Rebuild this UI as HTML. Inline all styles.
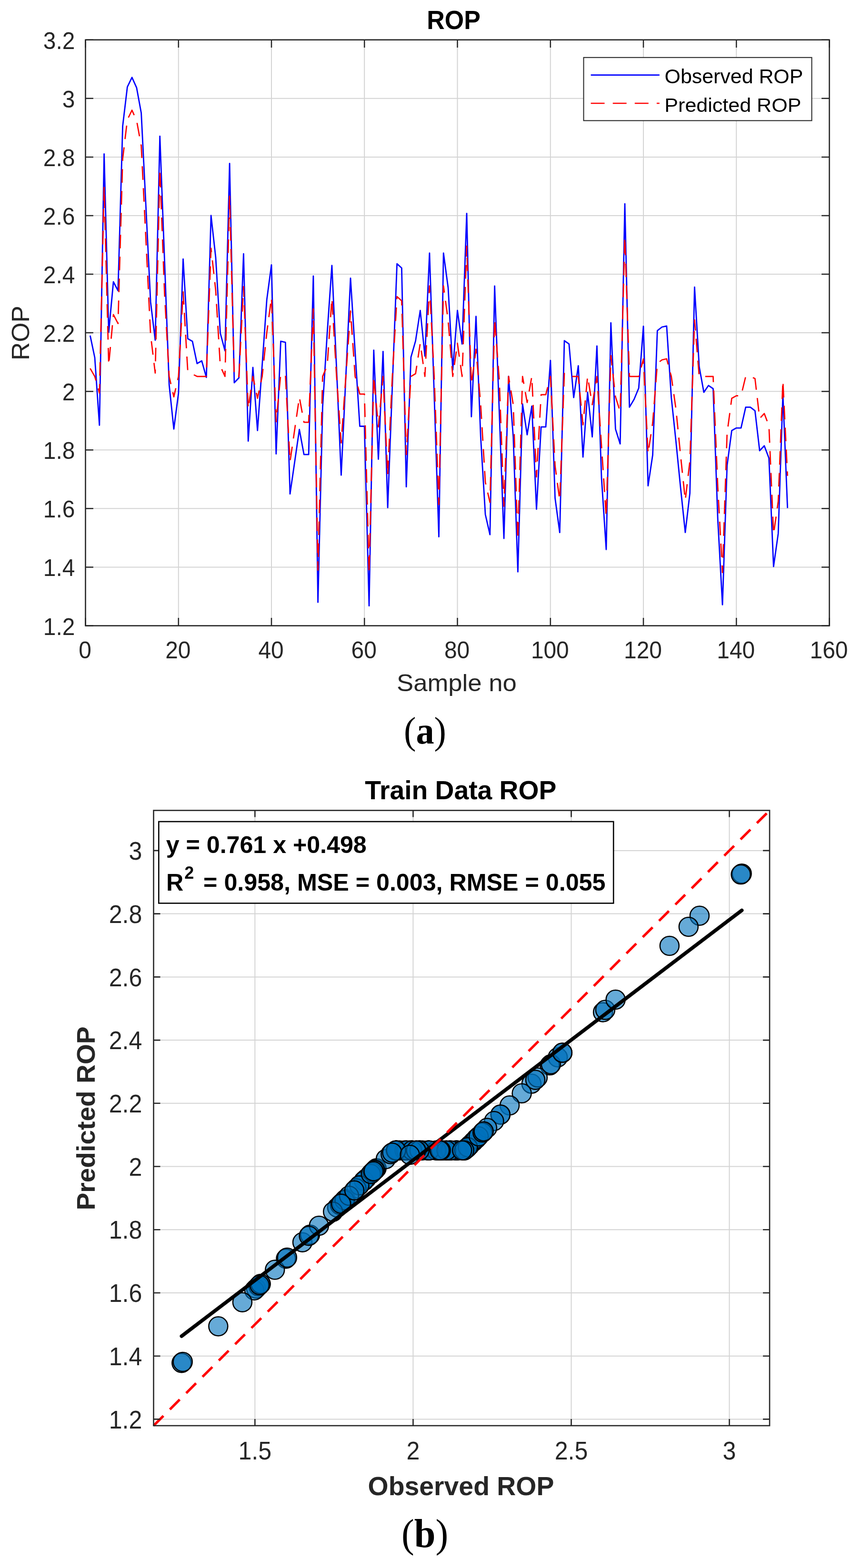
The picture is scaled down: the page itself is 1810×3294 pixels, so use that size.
<!DOCTYPE html><html><head><meta charset="utf-8"><title>ROP</title><style>
html,body{margin:0;padding:0;background:#fff;}
svg{display:block;}
.t{font-family:"Liberation Sans",Arial,sans-serif;}
.s{font-family:"Liberation Serif","Times New Roman",serif;font-weight:bold;}
</style></head><body>
<svg width="1810" height="3294" viewBox="0 0 1810 3294">
<rect x="0" y="0" width="1810" height="3294" fill="#fff"/>
<path d="M374.8 83.7V1314.5M570.0 83.7V1314.5M765.2 83.7V1314.5M960.5 83.7V1314.5M1155.8 83.7V1314.5M1351.0 83.7V1314.5M1546.2 83.7V1314.5M179.5 1191.4H1741.5M179.5 1068.3H1741.5M179.5 945.3H1741.5M179.5 822.2H1741.5M179.5 699.1H1741.5M179.5 576.0H1741.5M179.5 452.9H1741.5M179.5 329.9H1741.5M179.5 206.8H1741.5" stroke="#d4d4d4" stroke-width="2" fill="none"/>
<polyline points="189.3,704.9 199.0,751.3 208.8,893.3 218.6,323.3 228.3,698.2 238.1,592.0 247.8,610.7 257.6,264.8 267.4,182.7 277.1,162.6 286.9,184.4 296.6,237.6 306.4,433.9 316.2,634.4 325.9,714.7 335.7,286.2 345.5,547.3 355.2,808.5 365.0,901.3 374.8,825.9 384.5,544.2 394.3,711.6 404.0,716.9 413.8,763.8 423.6,758.0 433.3,792.8 443.1,452.7 452.9,540.6 462.6,700.0 472.4,737.0 482.1,343.3 491.9,804.0 501.7,793.7 511.4,533.1 521.2,926.7 531.0,771.8 540.7,904.4 550.5,766.9 560.2,629.9 570.0,556.3 579.8,953.5 589.5,716.9 599.3,719.2 609.0,1037.6 618.8,969.9 628.6,902.2 638.3,954.9 648.1,954.9 657.9,579.9 667.6,1265.3 677.4,855.4 687.1,699.1 696.9,557.6 706.7,774.8 716.4,998.2 726.2,791.4 736.0,584.4 745.7,739.7 755.5,895.5 765.2,895.5 775.0,1272.7 784.8,735.7 794.5,964.6 804.3,738.4 814.1,1066.4 823.8,810.5 833.6,554.1 843.4,563.0 853.1,1022.7 862.9,750.4 872.6,716.1 882.4,652.2 892.2,748.2 901.9,531.7 911.7,829.6 921.5,1127.6 931.2,531.7 941.0,604.5 950.7,777.2 960.5,652.2 970.3,722.7 980.0,448.3 989.8,875.4 999.5,664.7 1009.3,917.8 1019.1,1080.7 1028.8,1123.1 1038.6,600.9 1048.4,865.9 1058.1,1131.2 1067.9,790.6 1077.7,917.8 1087.4,1201.3 1097.2,848.6 1106.9,913.3 1116.7,853.1 1126.5,1069.6 1136.2,896.8 1146.0,896.8 1155.8,757.1 1165.5,1046.2 1175.3,1118.7 1185.0,715.6 1194.8,722.7 1204.6,835.2 1214.3,768.3 1224.1,960.2 1233.8,824.1 1243.6,917.8 1253.4,726.8 1263.1,1005.3 1272.9,1154.4 1282.7,678.1 1292.4,901.3 1302.2,932.5 1312.0,428.1 1321.7,855.4 1331.5,838.8 1341.2,815.2 1351.0,685.3 1360.8,1020.5 1370.5,955.7 1380.3,694.6 1390.0,687.0 1399.8,684.8 1409.6,835.2 1419.3,926.8 1429.1,1025.0 1438.9,1118.7 1448.6,1036.1 1458.4,603.1 1468.2,770.5 1477.9,824.1 1487.7,809.8 1497.4,816.5 1507.2,1091.1 1517.0,1270.4 1526.7,978.1 1536.5,904.4 1546.2,899.1 1556.0,899.1 1565.8,855.4 1575.5,855.4 1585.3,862.9 1595.1,946.8 1604.8,936.5 1614.6,962.4 1624.3,1190.1 1634.1,1120.9 1643.9,828.5 1653.6,1067.4" fill="none" stroke="#0000ff" stroke-width="2.8" stroke-linejoin="round"/>
<polyline points="189.3,773.8 199.0,790.8 208.8,825.6 218.6,392.2 228.3,767.1 238.1,660.9 247.8,679.7 257.6,333.7 267.4,251.6 277.1,231.5 286.9,253.4 296.6,306.5 306.4,502.8 316.2,703.3 325.9,783.7 335.7,355.2 345.5,616.3 355.2,790.8 365.0,833.6 374.8,790.8 384.5,613.1 394.3,780.5 404.0,785.9 413.8,790.8 423.6,790.8 433.3,790.8 443.1,521.6 452.9,609.6 462.6,768.9 472.4,790.8 482.1,412.3 491.9,790.8 501.7,790.8 511.4,602.0 521.2,859.0 531.0,790.8 540.7,836.7 550.5,790.8 560.2,698.9 570.0,625.2 579.8,885.8 589.5,785.9 599.3,788.1 609.0,969.9 618.8,902.2 628.6,834.5 638.3,887.2 648.1,887.2 657.9,648.8 667.6,1197.6 677.4,790.8 687.1,768.0 696.9,626.5 706.7,790.8 716.4,930.5 726.2,790.8 736.0,653.3 745.7,790.8 755.5,827.8 765.2,827.8 775.0,1205.0 784.8,790.8 794.5,897.0 804.3,790.8 814.1,998.7 823.8,790.8 833.6,623.0 843.4,631.9 853.1,955.0 862.9,790.8 872.6,785.0 882.4,721.1 892.2,790.8 901.9,600.6 911.7,790.8 921.5,1059.9 931.2,600.6 941.0,673.4 950.7,790.8 960.5,721.1 970.3,790.8 980.0,517.2 989.8,807.7 999.5,733.6 1009.3,850.1 1019.1,1013.0 1028.8,1055.4 1038.6,669.8 1048.4,798.2 1058.1,1063.5 1067.9,790.8 1077.7,850.1 1087.4,1133.6 1097.2,790.8 1106.9,845.6 1116.7,790.8 1126.5,1001.9 1136.2,829.1 1146.0,829.1 1155.8,790.8 1165.5,978.5 1175.3,1051.0 1185.0,784.5 1194.8,790.8 1204.6,790.8 1214.3,790.8 1224.1,892.5 1233.8,790.8 1243.6,850.1 1253.4,790.8 1263.1,937.6 1272.9,1086.7 1282.7,747.0 1292.4,833.6 1302.2,864.8 1312.0,497.1 1321.7,790.8 1331.5,790.8 1341.2,790.8 1351.0,754.2 1360.8,952.8 1370.5,888.0 1380.3,763.5 1390.0,756.0 1399.8,753.7 1409.6,790.8 1419.3,859.1 1429.1,957.3 1438.9,1051.0 1448.6,968.4 1458.4,672.0 1468.2,790.8 1477.9,790.8 1487.7,790.8 1497.4,790.8 1507.2,1023.4 1517.0,1202.7 1526.7,910.4 1536.5,836.7 1546.2,831.4 1556.0,831.4 1565.8,790.8 1575.5,790.8 1585.3,795.2 1595.1,879.1 1604.8,868.8 1614.6,894.7 1624.3,1122.4 1634.1,1053.2 1643.9,799.4 1653.6,999.7" fill="none" stroke="#ff0000" stroke-width="2.7" stroke-dasharray="28.6 17.4" stroke-linejoin="round"/>
<path d="M179.5 1314.5v-16.4M179.5 83.7v16.4M374.8 1314.5v-16.4M374.8 83.7v16.4M570.0 1314.5v-16.4M570.0 83.7v16.4M765.2 1314.5v-16.4M765.2 83.7v16.4M960.5 1314.5v-16.4M960.5 83.7v16.4M1155.8 1314.5v-16.4M1155.8 83.7v16.4M1351.0 1314.5v-16.4M1351.0 83.7v16.4M1546.2 1314.5v-16.4M1546.2 83.7v16.4M1741.5 1314.5v-16.4M1741.5 83.7v16.4M179.5 1314.5h16.4M1741.5 1314.5h-16.4M179.5 1191.4h16.4M1741.5 1191.4h-16.4M179.5 1068.3h16.4M1741.5 1068.3h-16.4M179.5 945.3h16.4M1741.5 945.3h-16.4M179.5 822.2h16.4M1741.5 822.2h-16.4M179.5 699.1h16.4M1741.5 699.1h-16.4M179.5 576.0h16.4M1741.5 576.0h-16.4M179.5 452.9h16.4M1741.5 452.9h-16.4M179.5 329.9h16.4M1741.5 329.9h-16.4M179.5 206.8h16.4M1741.5 206.8h-16.4M179.5 83.7h16.4M1741.5 83.7h-16.4" stroke="#262626" stroke-width="2.5" fill="none"/>
<rect x="179.5" y="83.7" width="1562.0" height="1230.8" fill="none" stroke="#262626" stroke-width="2.6"/>
<g font-family="Liberation Sans, Arial, sans-serif" fill="#262626" font-size="49.6">
<text transform="translate(178.5 1382.9) scale(0.965 1)" text-anchor="middle">0</text>
<text transform="translate(373.8 1382.9) scale(0.965 1)" text-anchor="middle">20</text>
<text transform="translate(569.0 1382.9) scale(0.965 1)" text-anchor="middle">40</text>
<text transform="translate(764.2 1382.9) scale(0.965 1)" text-anchor="middle">60</text>
<text transform="translate(959.5 1382.9) scale(0.965 1)" text-anchor="middle">80</text>
<text transform="translate(1154.8 1382.9) scale(0.965 1)" text-anchor="middle">100</text>
<text transform="translate(1350.0 1382.9) scale(0.965 1)" text-anchor="middle">120</text>
<text transform="translate(1545.2 1382.9) scale(0.965 1)" text-anchor="middle">140</text>
<text transform="translate(1740.5 1382.9) scale(0.965 1)" text-anchor="middle">160</text>
<text transform="translate(157.3 1333.5) scale(0.965 1)" text-anchor="end">1.2</text>
<text transform="translate(157.3 1210.4) scale(0.965 1)" text-anchor="end">1.4</text>
<text transform="translate(157.3 1087.3) scale(0.965 1)" text-anchor="end">1.6</text>
<text transform="translate(157.3 964.3) scale(0.965 1)" text-anchor="end">1.8</text>
<text transform="translate(157.3 841.2) scale(0.965 1)" text-anchor="end">2</text>
<text transform="translate(157.3 718.1) scale(0.965 1)" text-anchor="end">2.2</text>
<text transform="translate(157.3 595.0) scale(0.965 1)" text-anchor="end">2.4</text>
<text transform="translate(157.3 471.9) scale(0.965 1)" text-anchor="end">2.6</text>
<text transform="translate(157.3 348.9) scale(0.965 1)" text-anchor="end">2.8</text>
<text transform="translate(157.3 225.8) scale(0.965 1)" text-anchor="end">3</text>
<text transform="translate(157.3 102.7) scale(0.965 1)" text-anchor="end">3.2</text>
</g>
<text x="0" y="0" transform="matrix(0.52665 0 0 0.50532 833.07 1452.19)" font-family="Liberation Sans, Arial, sans-serif" font-size="100" fill="#262626">Sample no</text>
<text x="0" y="0" transform="matrix(0 -0.53005 0.52676 0 61.47 756.94)" font-family="Liberation Sans, Arial, sans-serif" font-size="100" fill="#262626">ROP</text>
<text x="0" y="0" transform="matrix(0.51942 0 0 0.54648 896.26 61.35)" font-family="Liberation Sans, Arial, sans-serif" font-weight="bold" font-size="100" fill="#000">ROP</text>
<rect x="1225.5" y="120.8" width="479" height="132.6" fill="#fff" stroke="#262626" stroke-width="2"/>
<path d="M1240.6 157.6H1384.8" stroke="#0000ff" stroke-width="2.8"/>
<path d="M1240.6 217H1384.8" stroke="#ff0000" stroke-width="2.7" stroke-dasharray="28.9 17.2"/>
<text x="0" y="0" transform="matrix(0.42889 0 0 0.42838 1395.56 175.07)" font-family="Liberation Sans, Arial, sans-serif" font-size="100" fill="#000">Observed ROP</text>
<text x="0" y="0" transform="matrix(0.43043 0 0 0.41216 1395.36 234.79)" font-family="Liberation Sans, Arial, sans-serif" font-size="100" fill="#000">Predicted ROP</text>
<text x="0" y="0" transform="matrix(0.76296 0 0 0.81333 848.05 1562.12)" font-family="Liberation Serif, Times New Roman, serif" font-size="100" fill="#000">(<tspan font-weight="bold">a</tspan>)</text>
<path d="M535.3 1702.5V2995.0M867.4 1702.5V2995.0M1199.5 1702.5V2995.0M1531.5 1702.5V2995.0M322.5 2981.4H1616.0M322.5 2848.7H1616.0M322.5 2716.0H1616.0M322.5 2583.2H1616.0M322.5 2450.5H1616.0M322.5 2317.8H1616.0M322.5 2185.1H1616.0M322.5 2052.4H1616.0M322.5 1919.6H1616.0M322.5 1786.9H1616.0" stroke="#d4d4d4" stroke-width="2" fill="none"/>
<g fill="#0072bd" fill-opacity="0.6" stroke="#000" stroke-width="2.5">
<circle cx="994.0" cy="2398.4" r="20"/>
<circle cx="943.8" cy="2416.7" r="20"/>
<circle cx="790.7" cy="2454.2" r="20"/>
<circle cx="1405.8" cy="1986.9" r="20"/>
<circle cx="1001.2" cy="2391.1" r="20"/>
<circle cx="1115.9" cy="2276.6" r="20"/>
<circle cx="1095.6" cy="2296.8" r="20"/>
<circle cx="1468.9" cy="1923.8" r="20"/>
<circle cx="1557.6" cy="1835.2" r="20"/>
<circle cx="1555.6" cy="1837.1" r="20"/>
<circle cx="1070.1" cy="2322.3" r="20"/>
<circle cx="983.4" cy="2409.0" r="20"/>
<circle cx="1445.8" cy="1946.9" r="20"/>
<circle cx="882.2" cy="2416.7" r="20"/>
<circle cx="782.0" cy="2462.9" r="20"/>
<circle cx="863.4" cy="2416.7" r="20"/>
<circle cx="986.7" cy="2405.6" r="20"/>
<circle cx="981.0" cy="2411.4" r="20"/>
<circle cx="930.4" cy="2416.7" r="20"/>
<circle cx="936.7" cy="2416.7" r="20"/>
<circle cx="899.1" cy="2416.7" r="20"/>
<circle cx="1266.1" cy="2126.4" r="20"/>
<circle cx="1171.2" cy="2221.2" r="20"/>
<circle cx="999.3" cy="2393.0" r="20"/>
<circle cx="959.3" cy="2416.7" r="20"/>
<circle cx="887.1" cy="2416.7" r="20"/>
<circle cx="898.2" cy="2416.7" r="20"/>
<circle cx="754.6" cy="2490.3" r="20"/>
<circle cx="921.7" cy="2416.7" r="20"/>
<circle cx="778.7" cy="2466.2" r="20"/>
<circle cx="927.0" cy="2416.7" r="20"/>
<circle cx="1154.4" cy="2238.1" r="20"/>
<circle cx="725.7" cy="2519.1" r="20"/>
<circle cx="981.0" cy="2411.4" r="20"/>
<circle cx="978.6" cy="2413.7" r="20"/>
<circle cx="635.0" cy="2609.8" r="20"/>
<circle cx="708.0" cy="2536.8" r="20"/>
<circle cx="781.1" cy="2463.8" r="20"/>
<circle cx="724.2" cy="2520.6" r="20"/>
<circle cx="724.2" cy="2520.6" r="20"/>
<circle cx="1128.9" cy="2263.6" r="20"/>
<circle cx="831.5" cy="2416.7" r="20"/>
<circle cx="1000.2" cy="2392.1" r="20"/>
<circle cx="918.5" cy="2416.7" r="20"/>
<circle cx="900.6" cy="2416.7" r="20"/>
<circle cx="1124.0" cy="2268.4" r="20"/>
<circle cx="956.4" cy="2416.7" r="20"/>
<circle cx="788.3" cy="2456.6" r="20"/>
<circle cx="788.3" cy="2456.6" r="20"/>
<circle cx="381.3" cy="2863.3" r="20"/>
<circle cx="960.7" cy="2416.7" r="20"/>
<circle cx="713.7" cy="2531.1" r="20"/>
<circle cx="957.9" cy="2416.7" r="20"/>
<circle cx="880.0" cy="2416.7" r="20"/>
<circle cx="1156.8" cy="2235.7" r="20"/>
<circle cx="651.0" cy="2593.7" r="20"/>
<circle cx="944.8" cy="2416.7" r="20"/>
<circle cx="981.9" cy="2410.4" r="20"/>
<circle cx="1050.8" cy="2341.5" r="20"/>
<circle cx="947.2" cy="2416.7" r="20"/>
<circle cx="1180.9" cy="2211.6" r="20"/>
<circle cx="859.4" cy="2416.7" r="20"/>
<circle cx="537.8" cy="2706.9" r="20"/>
<circle cx="1180.9" cy="2211.6" r="20"/>
<circle cx="916.0" cy="2416.7" r="20"/>
<circle cx="1050.8" cy="2341.5" r="20"/>
<circle cx="974.7" cy="2416.7" r="20"/>
<circle cx="1270.9" cy="2121.6" r="20"/>
<circle cx="810.0" cy="2434.9" r="20"/>
<circle cx="1037.4" cy="2355.0" r="20"/>
<circle cx="764.2" cy="2480.6" r="20"/>
<circle cx="542.7" cy="2702.0" r="20"/>
<circle cx="820.3" cy="2424.6" r="20"/>
<circle cx="534.0" cy="2710.7" r="20"/>
<circle cx="901.5" cy="2416.7" r="20"/>
<circle cx="764.2" cy="2480.6" r="20"/>
<circle cx="458.3" cy="2786.3" r="20"/>
<circle cx="838.9" cy="2416.7" r="20"/>
<circle cx="769.1" cy="2475.8" r="20"/>
<circle cx="834.1" cy="2416.7" r="20"/>
<circle cx="600.4" cy="2644.3" r="20"/>
<circle cx="786.9" cy="2458.0" r="20"/>
<circle cx="786.9" cy="2458.0" r="20"/>
<circle cx="937.6" cy="2416.7" r="20"/>
<circle cx="547.4" cy="2697.2" r="20"/>
<circle cx="982.4" cy="2409.9" r="20"/>
<circle cx="974.7" cy="2416.7" r="20"/>
<circle cx="853.3" cy="2416.7" r="20"/>
<circle cx="925.6" cy="2416.7" r="20"/>
<circle cx="718.4" cy="2526.4" r="20"/>
<circle cx="865.3" cy="2416.7" r="20"/>
<circle cx="764.2" cy="2480.6" r="20"/>
<circle cx="970.3" cy="2416.7" r="20"/>
<circle cx="669.8" cy="2574.9" r="20"/>
<circle cx="508.9" cy="2735.7" r="20"/>
<circle cx="1022.9" cy="2369.5" r="20"/>
<circle cx="782.0" cy="2462.9" r="20"/>
<circle cx="748.3" cy="2496.5" r="20"/>
<circle cx="1292.6" cy="2099.9" r="20"/>
<circle cx="831.6" cy="2416.7" r="20"/>
<circle cx="849.5" cy="2416.7" r="20"/>
<circle cx="875.0" cy="2416.7" r="20"/>
<circle cx="1015.2" cy="2377.2" r="20"/>
<circle cx="723.3" cy="2521.5" r="20"/>
<circle cx="1005.1" cy="2387.3" r="20"/>
<circle cx="1013.2" cy="2379.1" r="20"/>
<circle cx="1015.6" cy="2376.7" r="20"/>
<circle cx="853.3" cy="2416.7" r="20"/>
<circle cx="754.5" cy="2490.3" r="20"/>
<circle cx="648.6" cy="2596.2" r="20"/>
<circle cx="547.4" cy="2697.2" r="20"/>
<circle cx="923.2" cy="2416.7" r="20"/>
<circle cx="865.3" cy="2416.7" r="20"/>
<circle cx="880.8" cy="2416.7" r="20"/>
<circle cx="873.5" cy="2416.7" r="20"/>
<circle cx="577.2" cy="2667.5" r="20"/>
<circle cx="383.7" cy="2860.9" r="20"/>
<circle cx="699.2" cy="2545.6" r="20"/>
<circle cx="778.7" cy="2466.2" r="20"/>
<circle cx="784.4" cy="2460.5" r="20"/>
<circle cx="784.4" cy="2460.5" r="20"/>
<circle cx="831.6" cy="2416.7" r="20"/>
<circle cx="831.6" cy="2416.7" r="20"/>
<circle cx="823.4" cy="2421.4" r="20"/>
<circle cx="732.9" cy="2511.9" r="20"/>
<circle cx="744.0" cy="2500.8" r="20"/>
<circle cx="716.1" cy="2528.8" r="20"/>
<circle cx="545.0" cy="2699.6" r="20"/>
<circle cx="860.6" cy="2426.0" r="20"/>
<circle cx="602.8" cy="2641.9" r="20"/>
</g>
<path d="M381.3 2806.9L1557.6 1912.4" stroke="#000" stroke-width="7.6" stroke-linecap="round"/>
<path d="M322.5 2995.0L1616.0 1702.5" stroke="#ff0000" stroke-width="5.2" stroke-dasharray="29.2 19.2"/>
<path d="M535.3 2995.0v-14M535.3 1702.5v14M867.4 2995.0v-14M867.4 1702.5v14M1199.5 2995.0v-14M1199.5 1702.5v14M1531.5 2995.0v-14M1531.5 1702.5v14M322.5 2981.4h14M1616.0 2981.4h-14M322.5 2848.7h14M1616.0 2848.7h-14M322.5 2716.0h14M1616.0 2716.0h-14M322.5 2583.2h14M1616.0 2583.2h-14M322.5 2450.5h14M1616.0 2450.5h-14M322.5 2317.8h14M1616.0 2317.8h-14M322.5 2185.1h14M1616.0 2185.1h-14M322.5 2052.4h14M1616.0 2052.4h-14M322.5 1919.6h14M1616.0 1919.6h-14M322.5 1786.9h14M1616.0 1786.9h-14" stroke="#262626" stroke-width="2.6" fill="none"/>
<rect x="322.5" y="1702.5" width="1293.5" height="1292.5" fill="none" stroke="#262626" stroke-width="2.6"/>
<g font-family="Liberation Sans, Arial, sans-serif" fill="#262626" font-size="53.3">
<text transform="translate(535.3 3066.3) scale(0.94 1)" text-anchor="middle">1.5</text>
<text transform="translate(867.4 3066.3) scale(0.94 1)" text-anchor="middle">2</text>
<text transform="translate(1199.5 3066.3) scale(0.94 1)" text-anchor="middle">2.5</text>
<text transform="translate(1531.5 3066.3) scale(0.94 1)" text-anchor="middle">3</text>
<text transform="translate(298.4 3000.6) scale(0.94 1)" text-anchor="end">1.2</text>
<text transform="translate(298.4 2867.9) scale(0.94 1)" text-anchor="end">1.4</text>
<text transform="translate(298.4 2735.2) scale(0.94 1)" text-anchor="end">1.6</text>
<text transform="translate(298.4 2602.4) scale(0.94 1)" text-anchor="end">1.8</text>
<text transform="translate(298.4 2469.7) scale(0.94 1)" text-anchor="end">2</text>
<text transform="translate(298.4 2337.0) scale(0.94 1)" text-anchor="end">2.2</text>
<text transform="translate(298.4 2204.3) scale(0.94 1)" text-anchor="end">2.4</text>
<text transform="translate(298.4 2071.6) scale(0.94 1)" text-anchor="end">2.6</text>
<text transform="translate(298.4 1938.8) scale(0.94 1)" text-anchor="end">2.8</text>
<text transform="translate(298.4 1806.1) scale(0.94 1)" text-anchor="end">3</text>
</g>
<text x="0" y="0" transform="matrix(0.55372 0 0 0.56216 772.59 3140.84)" font-family="Liberation Sans, Arial, sans-serif" font-weight="bold" font-size="100" fill="#262626">Observed ROP</text>
<text x="0" y="0" transform="matrix(0 -0.55174 0.53378 0 199.17 2542.56)" font-family="Liberation Sans, Arial, sans-serif" font-weight="bold" font-size="100" fill="#262626">Predicted ROP</text>
<text x="0" y="0" transform="matrix(0.55214 0 0 0.55676 766.35 1679.24)" font-family="Liberation Sans, Arial, sans-serif" font-weight="bold" font-size="100" fill="#000">Train Data ROP</text>
<rect x="333.3" y="1726" width="954.9" height="171.5" fill="#fff" stroke="#000" stroke-width="2.6"/>
<text x="0" y="0" transform="matrix(0.50144 0 0 0.50549 348.80 1791.58)" font-family="Liberation Sans, Arial, sans-serif" font-weight="bold" font-size="100" fill="#000">y = 0.761 x +0.498</text>
<text x="0" y="0" transform="matrix(0.5022 0 0 0.5055 348.88 1871.1)" font-family="Liberation Sans, Arial, sans-serif" font-weight="bold" font-size="100" fill="#000">R<tspan font-size="71.6" dx="4" dy="-50">2</tspan><tspan dx="12" dy="50"> = 0.958, MSE = 0.003, RMSE = 0.055</tspan></text>
<text x="0" y="0" transform="matrix(0.80351 0 0 0.84000 842.99 3250.16)" font-family="Liberation Serif, Times New Roman, serif" font-size="100" fill="#000">(<tspan font-weight="bold">b</tspan>)</text>
</svg></body></html>
